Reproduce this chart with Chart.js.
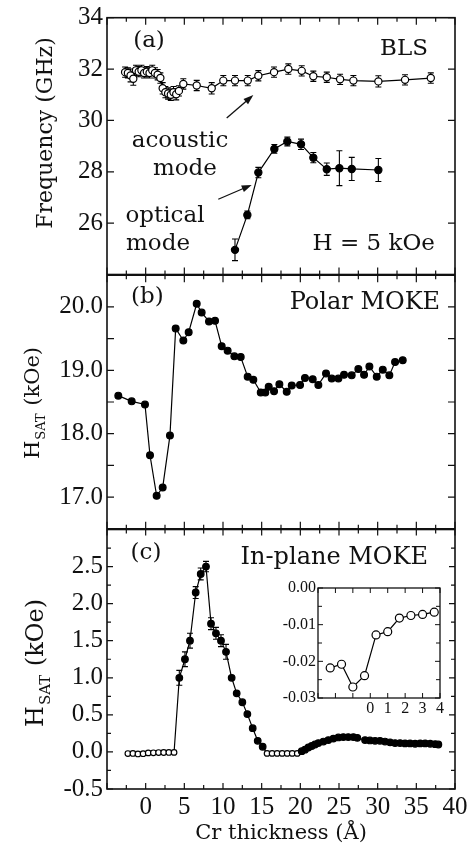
<!DOCTYPE html>
<html>
<head>
<meta charset="utf-8">
<title>Cr thickness dependence</title>
<script src="https://cdn.jsdelivr.net/npm/chart.js@4.4.1/dist/chart.umd.min.js"></script>
<style>
  html, body { margin: 0; padding: 0; background: #fff; }
  #wrap { position: relative; width: 474px; height: 849px; overflow: hidden; background: #fff; }
  #wrap canvas { position: absolute; left: 0; }
</style>
</head>
<body>
<div id="wrap">
  <canvas id="chartA" width="474" height="280" style="top:0px"></canvas>
  <canvas id="chartB" width="474" height="264" style="top:270px"></canvas>
  <canvas id="chartC" width="474" height="329" style="top:520px"></canvas>
  <canvas id="chartInset" width="200" height="155" style="top:572px;left:260px"></canvas>
</div>
<script>
// (a) BLS frequencies
const acousticX = [-2.66, -2.3, -1.95, -1.6, -1.25, -0.9, -0.55, -0.2, 0.15, 0.5, 0.85, 1.2, 1.55, 1.9,
  2.2, 2.55, 2.9, 3.25, 3.6, 3.95, 4.3, 4.87, 6.6, 8.54, 10.04, 11.55, 13.2, 14.57, 16.6, 18.45,
  20.18, 21.68, 23.42, 25.14, 26.86, 30.09, 33.54, 36.87];
const acousticY = [31.88, 31.85, 31.75, 31.62, 31.95, 31.9, 31.95, 31.85, 31.9, 31.85, 31.95, 31.85, 31.78, 31.65,
  31.25, 31.1, 31.05, 31.0, 31.1, 31.02, 31.15, 31.42, 31.36, 31.25, 31.55, 31.55, 31.55, 31.74, 31.88, 32.0,
  31.93, 31.72, 31.68, 31.6, 31.55, 31.52, 31.58, 31.65];
const acousticErr = [0.2, 0.2, 0.25, 0.25, 0.2, 0.2, 0.2, 0.2, 0.2, 0.2, 0.2, 0.2, 0.2, 0.2,
  0.22, 0.22, 0.22, 0.22, 0.22, 0.22, 0.2, 0.2, 0.2, 0.22, 0.2, 0.2, 0.2, 0.2, 0.2, 0.2,
  0.2, 0.2, 0.2, 0.2, 0.2, 0.22, 0.2, 0.2];

const opticalX = [11.55, 13.15, 14.57, 16.64, 18.32, 20.09, 21.68, 23.42, 25.05, 26.65, 30.09];
const opticalY = [24.96, 26.32, 27.97, 28.89, 29.18, 29.07, 28.55, 28.1, 28.14, 28.11, 28.07];
const opticalErr = [0.42, 0.15, 0.2, 0.17, 0.17, 0.2, 0.2, 0.24, 0.68, 0.45, 0.45];

// (b) polar MOKE saturation field
const polarX = [-3.54, -1.81, -0.09, 0.56, 1.42, 2.2, 3.14, 3.88, 4.87, 5.56, 6.6, 7.24, 8.19, 8.97,
  9.83, 10.6, 11.47, 12.29, 13.19, 13.92, 14.88, 15.47, 15.91, 16.6, 17.29, 18.24, 18.89, 19.96,
  20.6, 21.6, 22.33, 23.32, 24.06, 24.92, 25.65, 26.64, 27.5, 28.24, 28.93, 29.88, 30.66, 31.51,
  32.25, 33.24];
const polarY = [18.6, 18.51, 18.46, 17.66, 17.02, 17.15, 17.97, 19.66, 19.47, 19.6, 20.05, 19.91, 19.77, 19.78,
  19.38, 19.31, 19.22, 19.21, 18.9, 18.85, 18.65, 18.65, 18.74, 18.67, 18.78, 18.66, 18.76, 18.77,
  18.88, 18.86, 18.77, 18.95, 18.87, 18.87, 18.93, 18.92, 19.02, 18.93, 19.06, 18.9, 19.01, 18.92,
  19.13, 19.16];

// (c) in-plane MOKE; the inset zooms on the first (negative) points
const insetX = [-2.3, -1.65, -1.0, -0.33, 0.33, 1.0, 1.67, 2.33, 3.0, 3.67];
const insetY = [-0.0218, -0.0208, -0.027, -0.0239, -0.0128, -0.0119, -0.0082, -0.0075, -0.0072, -0.0066];

const inplaneX = insetX.concat([
  4.35, 5.08, 5.73, 6.47, 7.12, 7.8, 8.45, 9.09, 9.74, 10.39, 11.12, 11.77, 12.5, 13.15, 13.84, 14.49, 15.13,
  15.7, 16.35, 17.0, 17.65, 18.3, 18.95, 19.6,
  20.18, 20.6, 21.04, 21.47, 21.9, 22.33, 22.98, 23.62, 24.27, 24.92, 25.56, 26.2, 26.86, 27.37,
  28.37, 29.0, 29.66, 30.3, 30.95, 31.6, 32.25, 32.9, 33.54, 34.19, 34.84, 35.5, 36.14, 36.8, 37.44, 37.85]);
const inplaneY = insetY.concat([
  1.0, 1.25, 1.5, 2.15, 2.4, 2.5, 1.73, 1.6, 1.5, 1.35, 1.0, 0.79, 0.67, 0.51, 0.32, 0.15, 0.07,
  -0.02, -0.02, -0.02, -0.02, -0.02, -0.02, -0.02,
  0.01, 0.03, 0.06, 0.08, 0.1, 0.12, 0.14, 0.16, 0.18, 0.195, 0.2, 0.2, 0.2, 0.19,
  0.16, 0.155, 0.15, 0.15, 0.14, 0.13, 0.12, 0.12, 0.115, 0.115, 0.11, 0.115, 0.115, 0.11, 0.105, 0.1]);
const inplaneErr = [0, 0, 0, 0, 0, 0, 0, 0, 0, 0,
  0.1, 0.1, 0.1, 0.08, 0.08, 0.07, 0.08, 0.08, 0.08, 0.1, 0, 0, 0, 0, 0, 0, 0];

// tick labels
const thicknessTicks = [0, 5, 10, 15, 20, 25, 30, 35, 40];
const freqTicks = [26, 28, 30, 32, 34];
const polarTicks = [17, 18, 19, 20];
const inplaneTicks = [-0.5, 0, 0.5, 1, 1.5, 2, 2.5];
const insetXTicks = [0, 1, 2, 3, 4];
const insetYTicks = [0, -0.01, -0.02, -0.03];

const SERIF = '"DejaVu Serif", serif';
const NUM = '"Liberation Serif", serif';
const INK = "#111";

function pts(xs, ys) {
  return xs.map(function (x, i) { return { x: x, y: ys[i] }; });
}
function fixedTicks(values) {
  return function (scale) {
    scale.ticks = values.map(function (v) { return { value: v }; });
  };
}

// vertical error bars, drawn through the scales
const errorBars = {
  id: "errorBars",
  beforeDatasetsDraw: function (chart) {
    const ctx = chart.ctx, xs = chart.scales.x, ys = chart.scales.y;
    chart.data.datasets.forEach(function (ds) {
      if (!ds.errors) return;
      ctx.save();
      ctx.strokeStyle = "#000";
      ctx.lineWidth = 1.1;
      ctx.beginPath();
      ds.data.forEach(function (p, i) {
        const e = ds.errors[i];
        if (!e) return;
        const px = xs.getPixelForValue(p.x);
        const top = ys.getPixelForValue(p.y + e), bot = ys.getPixelForValue(p.y - e);
        ctx.moveTo(px, top); ctx.lineTo(px, bot);
        ctx.moveTo(px - 3, top); ctx.lineTo(px + 3, top);
        ctx.moveTo(px - 3, bot); ctx.lineTo(px + 3, bot);
      });
      ctx.stroke();
      ctx.restore();
    });
  }
};

// box with inward ticks on all four sides
const frame = {
  id: "frame",
  afterDraw: function (chart, args, o) {
    const ctx = chart.ctx, a = chart.chartArea, xs = chart.scales.x, ys = chart.scales.y;
    ctx.save();
    ctx.strokeStyle = INK;
    ctx.lineWidth = o.lineWidth;
    ctx.strokeRect(a.left, a.top, a.right - a.left, a.bottom - a.top);
    ctx.lineWidth = o.tickWidth;
    ctx.beginPath();
    function each(scale, step, major, fn) {
      const first = Math.ceil(scale.min / step - 1e-6);
      const last = Math.floor(scale.max / step + 1e-6);
      for (let k = first; k <= last; k++) {
        const v = k * step;
        const isMajor = Math.abs(v / major - Math.round(v / major)) < 1e-6;
        fn(scale.getPixelForValue(v), isMajor ? o.majorLen : o.minorLen);
      }
    }
    each(xs, o.xStep, o.xMajor, function (p, len) {
      ctx.moveTo(p, a.bottom); ctx.lineTo(p, a.bottom - len);
      ctx.moveTo(p, a.top); ctx.lineTo(p, a.top + len);
    });
    each(ys, o.yStep, o.yMajor, function (p, len) {
      ctx.moveTo(a.left, p); ctx.lineTo(a.left + len, p);
      ctx.moveTo(a.right, p); ctx.lineTo(a.right - len, p);
    });
    ctx.stroke();
    ctx.restore();
  }
};

// panel labels, arrows and the rotated y title
const notes = {
  id: "notes",
  afterDraw: function (chart, args, o) {
    const ctx = chart.ctx, xs = chart.scales.x, ys = chart.scales.y;
    ctx.save();
    ctx.fillStyle = INK;
    ctx.strokeStyle = INK;
    ctx.textBaseline = "alphabetic";
    (o.texts || []).forEach(function (t) {
      ctx.font = t.size + "px " + SERIF;
      ctx.textAlign = t.align;
      ctx.fillText(t.text, xs.getPixelForValue(t.x), ys.getPixelForValue(t.y));
    });
    (o.arrows || []).forEach(function (ar) {
      const x0 = xs.getPixelForValue(ar[0]), y0 = ys.getPixelForValue(ar[1]);
      const x1 = xs.getPixelForValue(ar[2]), y1 = ys.getPixelForValue(ar[3]);
      const ang = Math.atan2(y1 - y0, x1 - x0);
      ctx.lineWidth = 1.3;
      ctx.beginPath();
      ctx.moveTo(x0, y0);
      ctx.lineTo(x1 - 6 * Math.cos(ang), y1 - 6 * Math.sin(ang));
      ctx.stroke();
      ctx.beginPath();
      ctx.moveTo(x1, y1);
      ctx.lineTo(x1 - 10 * Math.cos(ang) + 3.5 * Math.sin(ang), y1 - 10 * Math.sin(ang) - 3.5 * Math.cos(ang));
      ctx.lineTo(x1 - 10 * Math.cos(ang) - 3.5 * Math.sin(ang), y1 - 10 * Math.sin(ang) + 3.5 * Math.cos(ang));
      ctx.closePath();
      ctx.fill();
    });
    const t = o.yTitle;
    if (t) {
      ctx.translate(t.left, t.middle);
      ctx.rotate(-Math.PI / 2);
      ctx.textAlign = "left";
      const big = t.size + "px " + SERIF, small = Math.round(t.size * 0.62) + "px " + SERIF;
      ctx.font = big;
      const w1 = ctx.measureText(t.main).width, w3 = ctx.measureText(t.rest).width;
      ctx.font = small;
      const w2 = t.sub ? ctx.measureText(t.sub).width + 2 : 0;
      let cx = -(w1 + w2 + w3) / 2;
      ctx.font = big;
      ctx.fillText(t.main, cx, 0);
      cx += w1;
      if (t.sub) {
        ctx.font = small;
        ctx.fillText(t.sub, cx + 1, t.size * 0.3);
        cx += w2;
      }
      ctx.font = big;
      ctx.fillText(t.rest, cx, 0);
    }
    ctx.restore();
  }
};

function panel(id, datasets, o) {
  return new Chart(document.getElementById(id), {
    type: "scatter",
    data: { datasets: datasets },
    plugins: [errorBars, frame, notes],
    options: {
      responsive: false,
      animation: false,
      events: [],
      layout: { padding: o.padding },
      plugins: {
        legend: { display: false },
        tooltip: { enabled: false },
        frame: o.frame,
        notes: o.notes || {}
      },
      scales: {
        x: {
          type: "linear",
          min: o.xMin,
          max: o.xMax,
          display: o.xShow,
          grid: { display: false, drawTicks: false },
          border: { display: false },
          afterBuildTicks: fixedTicks(o.xTicks),
          afterFit: function (s) {
            if (o.xHeight) s.height = o.xHeight;
            s.paddingLeft = 0;
            s.paddingRight = 0;
          },
          ticks: {
            color: INK,
            padding: o.xPad,
            maxRotation: 0,
            font: { family: NUM, size: o.tickSize },
            callback: function (v) { return String(v); }
          },
          title: o.xTitle ? {
            display: true,
            text: o.xTitle,
            color: INK,
            font: { family: SERIF, size: 21 },
            padding: { top: 3, bottom: 3 }
          } : { display: false }
        },
        y: {
          type: "linear",
          min: o.yMin,
          max: o.yMax,
          grid: { display: false, drawTicks: false },
          border: { display: false },
          afterBuildTicks: fixedTicks(o.yTicks),
          afterFit: function (s) {
            s.width = o.yWidth;
            s.paddingTop = 0;
            s.paddingBottom = 0;
          },
          ticks: {
            color: INK,
            padding: o.yPad,
            font: { family: NUM, size: o.tickSize },
            callback: function (v) { return v.toFixed(o.yDigits); }
          }
        }
      }
    }
  });
}

const lineStyle = { showLine: true, borderColor: "#000", borderWidth: 1.2, pointBorderColor: "#000", pointBorderWidth: 1.2 };

panel("chartA", [
  Object.assign({ data: pts(acousticX, acousticY), errors: acousticErr, pointRadius: 3.6, pointBackgroundColor: "#fff" }, lineStyle),
  Object.assign({ data: pts(opticalX, opticalY), errors: opticalErr, pointRadius: 3.6, pointBackgroundColor: "#000" }, lineStyle)
], {
  padding: { top: 17.7, right: 19, bottom: 5.5, left: 0 },
  xMin: -5, xMax: 40, xShow: false, xTicks: thicknessTicks,
  yMin: 24, yMax: 34, yTicks: freqTicks, yDigits: 0, yWidth: 107, yPad: 4, tickSize: 25,
  frame: { lineWidth: 1.6, tickWidth: 1.2, majorLen: 7, minorLen: 4, xStep: 2.5, xMajor: 5, yStep: 2, yMajor: 2 },
  notes: {
    texts: [
      { text: "(a)", x: 0.43, y: 32.86, align: "center", size: 23 },
      { text: "BLS", x: 36.5, y: 32.55, align: "right", size: 23 },
      { text: "acoustic", x: 4.44, y: 28.97, align: "center", size: 23 },
      { text: "mode", x: 5.08, y: 27.88, align: "center", size: 23 },
      { text: "optical", x: 2.5, y: 26.06, align: "center", size: 23 },
      { text: "mode", x: 1.6, y: 24.96, align: "center", size: 23 },
      { text: "H = 5 kOe", x: 37.4, y: 24.96, align: "right", size: 23 }
    ],
    arrows: [[10.48, 30.09, 13.92, 30.99], [9.39, 26.93, 13.71, 27.49]],
    yTitle: { main: "Frequency (GHz)", sub: "", rest: "", left: 52, middle: 133, size: 22 }
  }
});

panel("chartB", [
  Object.assign({ data: pts(polarX, polarY), pointRadius: 3.4, pointBackgroundColor: "#000" }, lineStyle)
], {
  padding: { top: 4.5, right: 19, bottom: 4.5, left: 0 },
  xMin: -5, xMax: 40, xShow: false, xTicks: thicknessTicks,
  yMin: 16.5, yMax: 20.5, yTicks: polarTicks, yDigits: 1, yWidth: 107, yPad: 4, tickSize: 25,
  frame: { lineWidth: 1.6, tickWidth: 1.2, majorLen: 7, minorLen: 4, xStep: 2.5, xMajor: 5, yStep: 0.5, yMajor: 0.5 },
  notes: {
    texts: [
      { text: "(b)", x: 0.23, y: 20.06, align: "center", size: 23 },
      { text: "Polar MOKE", x: 38.07, y: 19.96, align: "right", size: 24 }
    ],
    yTitle: { main: "H", sub: "SAT", rest: " (kOe)", left: 39, middle: 133, size: 21 }
  }
});

panel("chartC", [
  Object.assign({}, lineStyle, {
    data: pts(inplaneX, inplaneY),
    errors: inplaneErr,
    pointRadius: function (c) { return c.raw && c.raw.y < 0 ? 2.8 : 3.3; },
    pointBackgroundColor: function (c) { return c.raw && c.raw.y < 0 ? "#fff" : "#000"; }
  })
], {
  padding: { top: 9.5, right: 19, bottom: 0, left: 0 },
  xMin: -5, xMax: 40, xShow: true, xTicks: thicknessTicks, xHeight: 60, xPad: 3, xTitle: "Cr thickness (\u00C5)",
  yMin: -0.5, yMax: 3, yTicks: inplaneTicks, yDigits: 1, yWidth: 107, yPad: 4, tickSize: 25,
  frame: { lineWidth: 1.6, tickWidth: 1.2, majorLen: 6, minorLen: 4, xStep: 2.5, xMajor: 5, yStep: 0.25, yMajor: 0.5 },
  notes: {
    texts: [
      { text: "(c)", x: 0.04, y: 2.6, align: "center", size: 23 },
      { text: "In-plane MOKE", x: 36.5, y: 2.54, align: "right", size: 24 }
    ],
    yTitle: { main: "H", sub: "SAT", rest: " (kOe)", left: 43, middle: 143, size: 24 }
  }
});

panel("chartInset", [
  Object.assign({ data: pts(insetX, insetY), pointRadius: 4, pointBackgroundColor: "#fff" }, lineStyle)
], {
  padding: { top: 16, right: 20, bottom: 0, left: 0 },
  xMin: -3, xMax: 4, xShow: true, xTicks: insetXTicks, xHeight: 29, xPad: 1,
  yMin: -0.03, yMax: 0, yTicks: insetYTicks, yDigits: 2, yWidth: 58, yPad: 2, tickSize: 16,
  frame: { lineWidth: 1.3, tickWidth: 1, majorLen: 5, minorLen: 4, xStep: 1, xMajor: 1, yStep: 0.005, yMajor: 0.01 }
});
</script>
</body>
</html>
